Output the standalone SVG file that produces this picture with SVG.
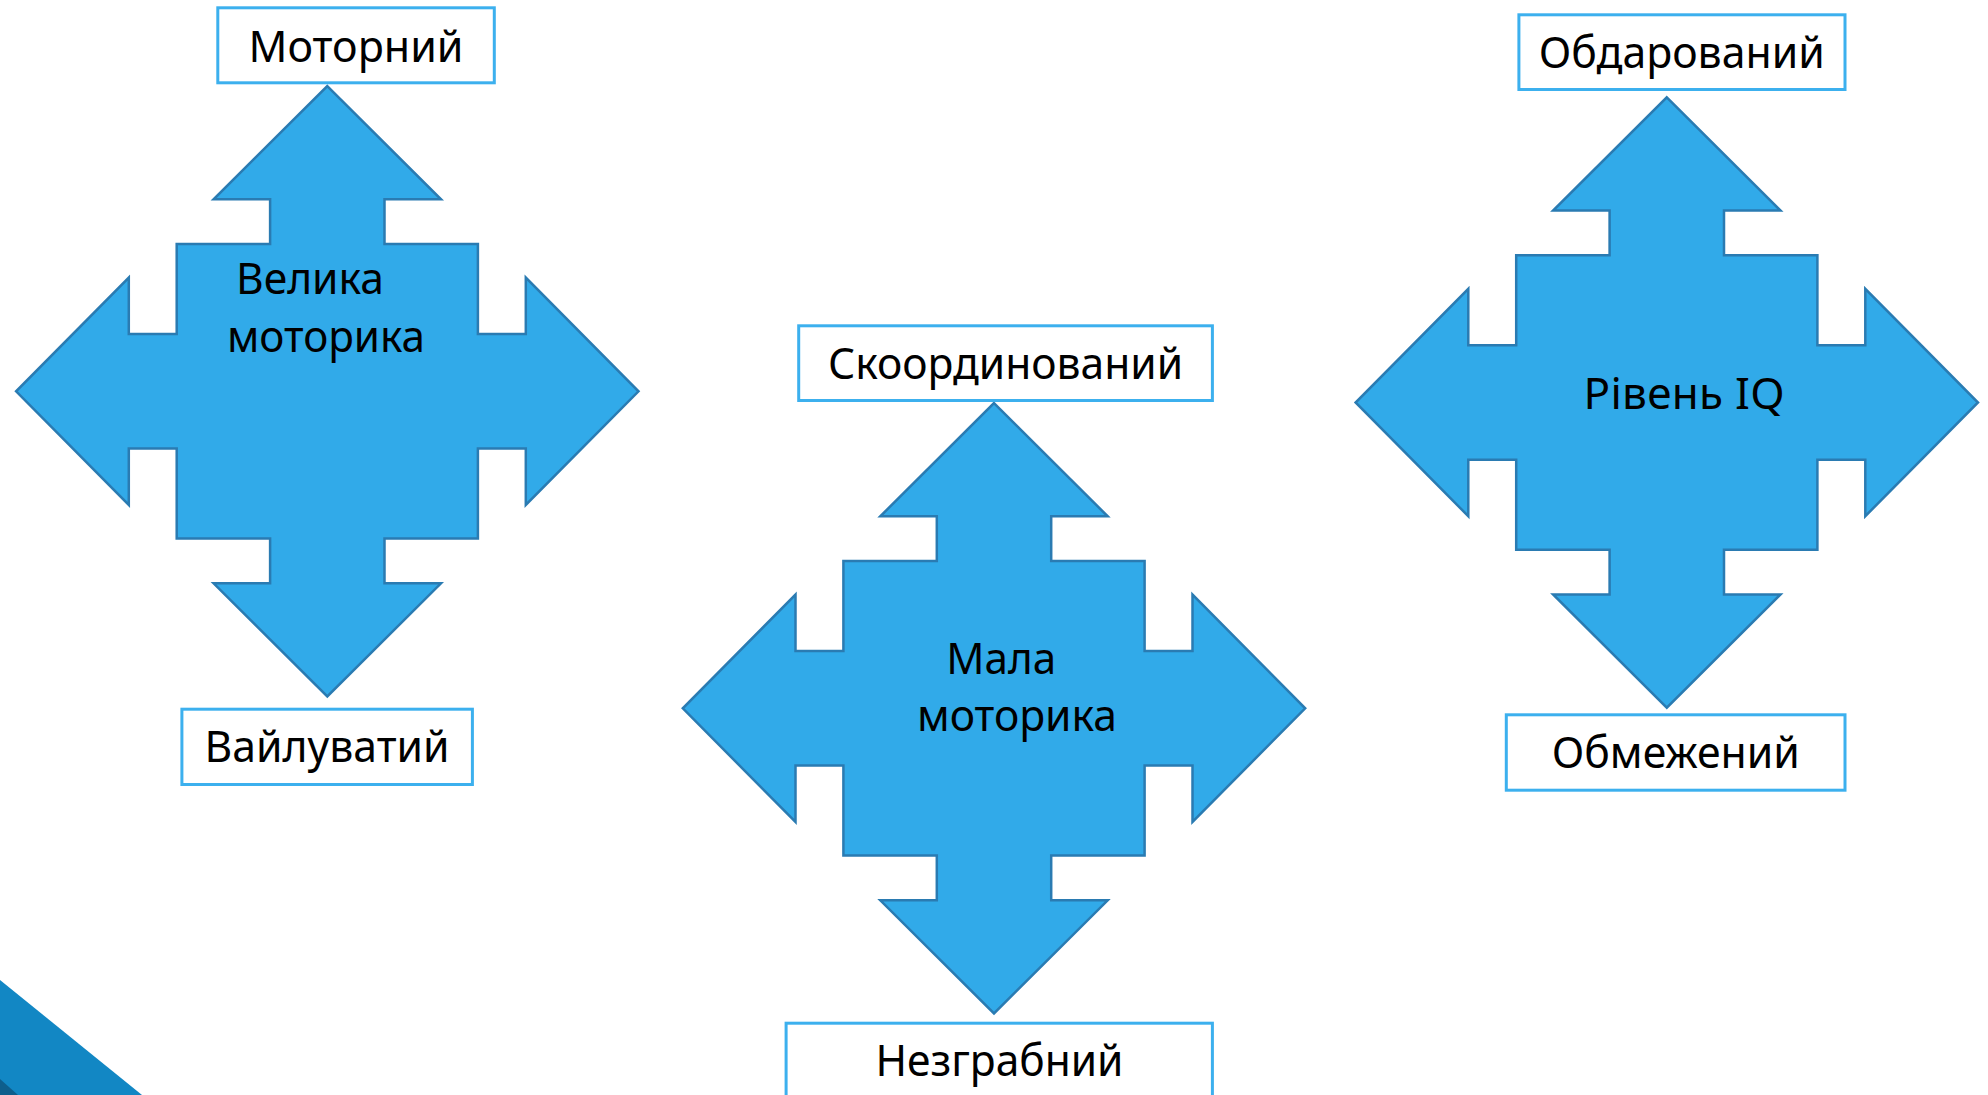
<svg xmlns="http://www.w3.org/2000/svg" xmlns:xlink="http://www.w3.org/1999/xlink" width="1988" height="1095" viewBox="0 0 1988 1095">
<style>
.cross{fill:#31aae9;stroke:#2a7bb2;stroke-width:2.5;stroke-linejoin:miter}
.box{fill:#ffffff;stroke:#3cb0ee;stroke-width:3}
.t{font-family:"Noto Sans","Open Sans","DejaVu Sans",sans-serif;font-size:44px;fill:#000000;text-anchor:middle}
</style>
<defs>
<path id="crossShape" class="cross" d="M0,-305.2 L113.7,-192 L57.2,-192 L57.2,-147.3 L150.6,-147.3 L150.6,-57.2 L198.5,-57.2 L198.5,-113.7 L311.2,0 L198.5,113.7 L198.5,57.2 L150.6,57.2 L150.6,147.3 L57.2,147.3 L57.2,192 L113.7,192 L0,305.2 L-113.7,192 L-57.2,192 L-57.2,147.3 L-150.6,147.3 L-150.6,57.2 L-198.5,57.2 L-198.5,113.7 L-311.2,0 L-198.5,-113.7 L-198.5,-57.2 L-150.6,-57.2 L-150.6,-147.3 L-57.2,-147.3 L-57.2,-192 L-113.7,-192 Z"/>
</defs>
<rect width="1988" height="1095" fill="#ffffff"/>
<g id="decor">
<polygon points="0,980 142,1095 0,1095" fill="#1287c4"/>
<polygon points="0,1079 18,1095 0,1095" fill="#0e5e8c"/>
</g>
<g id="connectors"/>
<g id="velyka-motoryka">
<use xlink:href="#crossShape" href="#crossShape" transform="translate(327.3,391.3)"/>
<text class="t" x="310" y="294" textLength="148" lengthAdjust="spacingAndGlyphs">Велика</text>
<text class="t" x="326" y="351.7" textLength="198" lengthAdjust="spacingAndGlyphs">моторика</text>
</g>
<g id="mala-motoryka">
<use xlink:href="#crossShape" href="#crossShape" transform="translate(994,708.3)"/>
<text class="t" x="1001.3" y="674" textLength="110" lengthAdjust="spacingAndGlyphs">Мала</text>
<text class="t" x="1017" y="731" textLength="200" lengthAdjust="spacingAndGlyphs">моторика</text>
</g>
<g id="riven-iq">
<use xlink:href="#crossShape" href="#crossShape" transform="translate(1666.8,402.5)"/>
<text class="t" x="1684" y="409" textLength="201" lengthAdjust="spacing">Рівень IQ</text>
</g>
<g id="motornyi">
<rect class="box" x="217.8" y="7.8" width="276.5" height="75"/>
<text class="t" x="356" y="61.7" textLength="215" lengthAdjust="spacingAndGlyphs">Моторний</text>
</g>
<g id="vailuvatyi">
<rect class="box" x="181.9" y="709.2" width="290.5" height="75.3"/>
<text class="t" x="327" y="761.7" textLength="245" lengthAdjust="spacingAndGlyphs">Вайлуватий</text>
</g>
<g id="skoordynovanyi">
<rect class="box" x="798.7" y="325.8" width="413.7" height="74.7"/>
<text class="t" x="1005.6" y="379" textLength="355" lengthAdjust="spacingAndGlyphs">Скоординований</text>
</g>
<g id="nezgrabnyi">
<rect class="box" x="786.1" y="1023.2" width="426.3" height="80"/>
<text class="t" x="999.5" y="1075.7" textLength="248" lengthAdjust="spacingAndGlyphs">Незграбний</text>
</g>
<g id="obdarovanyi">
<rect class="box" x="1518.9" y="14.8" width="326.1" height="74.7"/>
<text class="t" x="1681.8" y="67.7" textLength="286" lengthAdjust="spacingAndGlyphs">Обдарований</text>
</g>
<g id="obmezhenyi">
<rect class="box" x="1506.3" y="714.8" width="338.7" height="75.4"/>
<text class="t" x="1675.8" y="767.7" textLength="248" lengthAdjust="spacingAndGlyphs">Обмежений</text>
</g>
</svg>
